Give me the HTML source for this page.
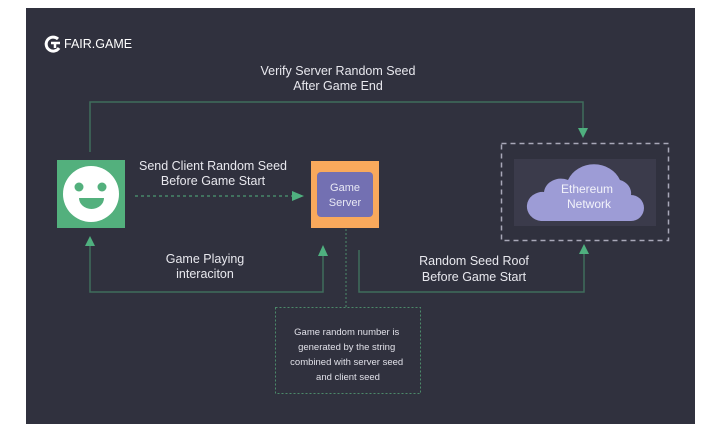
<!DOCTYPE html>
<html><head><meta charset="utf-8"><style>
body{margin:0;background:#fff;width:718px;height:434px;overflow:hidden}
svg{display:block}
text{font-family:"Liberation Sans","DejaVu Sans",sans-serif}
</style></head><body>
<svg width="718" height="434" viewBox="0 0 718 434">
<rect x="26" y="8" width="669" height="416" fill="#30313e"/>
<!-- logo -->
<path d="M58 39 A7 7 0 1 0 59 48" fill="none" stroke="#fff" stroke-width="3"/>
<path d="M51 43 H60 M55 43 V48" stroke="#fff" stroke-width="2.5" fill="none"/>
<text x="64" y="48" font-size="12.5" fill="#fff">FAIR.GAME</text>
<!-- top connector -->
<polyline points="90,152 90,102 583,102 583,130" fill="none" stroke="#3f6d5c" stroke-width="1.5"/>
<polygon points="578,128 588,128 583,138" fill="#4fb07f"/>
<text x="338" y="75" font-size="12.5" fill="#e8e8ee" text-anchor="middle">Verify Server Random Seed</text>
<text x="338" y="90" font-size="12.5" fill="#e8e8ee" text-anchor="middle">After Game End</text>
<!-- smiley -->
<rect x="57" y="160" width="68" height="68" fill="#53b07d"/>
<circle cx="91" cy="194" r="28" fill="#fff"/>
<circle cx="79" cy="187" r="4.5" fill="#53b07d"/>
<circle cx="102" cy="187" r="4.5" fill="#53b07d"/>
<path d="M79 198 H104 A12.5 11 0 0 1 79 198 Z" fill="#53b07d"/>
<!-- dashed arrow -->
<line x1="135" y1="196" x2="294" y2="196" stroke="#4b9a72" stroke-width="1.3" stroke-dasharray="3,3"/>
<polygon points="292,191 304,196 292,201" fill="#4fb07f"/>
<text x="213" y="170" font-size="12.5" fill="#e8e8ee" text-anchor="middle">Send Client Random Seed</text>
<text x="213" y="185" font-size="12.5" fill="#e8e8ee" text-anchor="middle">Before Game Start</text>
<!-- game server -->
<rect x="311" y="161" width="68" height="67" fill="#f9a95c"/>
<rect x="317" y="172" width="56" height="45" rx="4" fill="#7370b2"/>
<text x="345" y="191" font-size="11" fill="#e8e8f4" text-anchor="middle">Game</text>
<text x="345" y="206" font-size="11" fill="#e8e8f4" text-anchor="middle">Server</text>
<!-- note -->
<line x1="346" y1="229" x2="346" y2="307" stroke="#4b8a6a" stroke-width="1" stroke-dasharray="2,2"/>
<rect x="275.5" y="307.5" width="145" height="86" fill="none" stroke="#4b8a6a" stroke-width="1" stroke-dasharray="2,2"/>
<text font-size="9.5" fill="#e0e0e8" text-anchor="middle">
<tspan x="348" y="335">Game random number is</tspan>
<tspan x="348" y="350">generated by the string</tspan>
<tspan x="348" y="365">combined with server seed</tspan>
<tspan x="348" y="380">and client seed</tspan></text>
<!-- bottom left connector -->
<polyline points="90,244 90,292 323,292 323,254" fill="none" stroke="#3f6d5c" stroke-width="1.5"/>
<polygon points="85,246 95,246 90,236" fill="#4fb07f"/>
<polygon points="318,256 328,256 323,245" fill="#4fb07f"/>
<text x="205" y="263" font-size="12.5" fill="#e8e8ee" text-anchor="middle">Game Playing</text>
<text x="205" y="278" font-size="12.5" fill="#e8e8ee" text-anchor="middle">interaciton</text>
<!-- bottom right connector -->
<polyline points="359,250 359,292 584,292 584,252" fill="none" stroke="#3f6d5c" stroke-width="1.5"/>
<polygon points="579,254 589,254 584,244" fill="#4fb07f"/>
<text x="474" y="265" font-size="12.5" fill="#e8e8ee" text-anchor="middle">Random Seed Roof</text>
<text x="474" y="281" font-size="12.5" fill="#e8e8ee" text-anchor="middle">Before Game Start</text>
<!-- ethereum -->
<rect x="501.5" y="143.5" width="167" height="97" fill="none" stroke="#a8a8b8" stroke-width="1.5" stroke-dasharray="5,4"/>
<rect x="514" y="159" width="142" height="67" fill="#3b3b4b"/>
<path d="M541 221 H631 A13 13 0 0 0 631 195 A16 14 0 0 0 620 180 A28 25 0 0 0 568 180 A17 15 0 0 0 544 192 A15 14 0 0 0 541 221 Z" fill="#9d9cd6"/>
<text x="587" y="193" font-size="12" fill="#f2f2fa" text-anchor="middle">Ethereum</text>
<text x="589" y="208" font-size="12" fill="#f2f2fa" text-anchor="middle">Network</text>
</svg>
</body></html>
